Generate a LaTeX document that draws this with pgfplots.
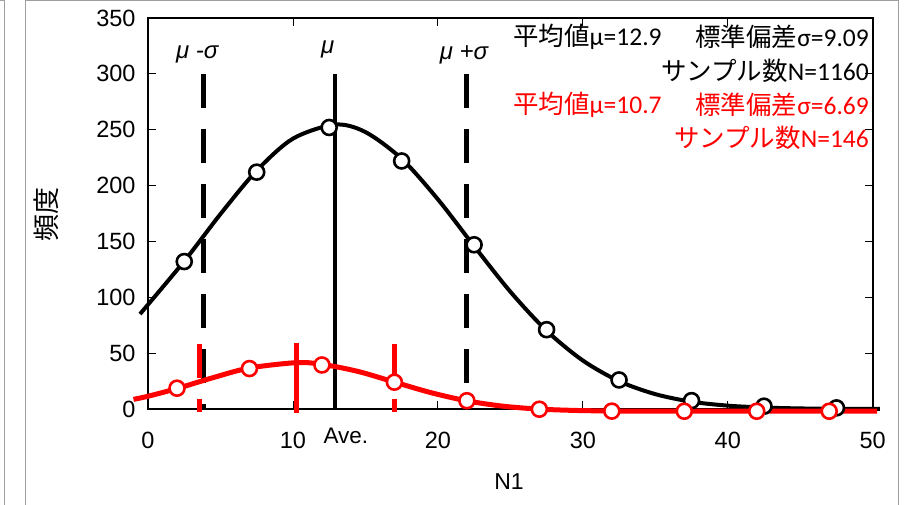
\documentclass[border=0pt]{standalone}
\usepackage{fontspec}
\setmainfont{Liberation Sans}
\newfontfamily\jp{Noto Sans CJK JP}
\newfontfamily\calib{Carlito}
\usepackage{pgfplots}
\pgfplotsset{compat=1.18}
\begin{document}
\begin{tikzpicture}
\useasboundingbox (0,0) rectangle (912pt,505pt);
\draw[gray!75, line width=1pt] (25pt,-2pt) -- (25pt,504pt) -- (898pt,504pt) -- (898pt,-2pt);
\draw[gray!75, line width=1pt] (4pt,-2pt) -- (4pt,504pt) -- (-2pt,504pt);
\begin{axis}[
  at={(148pt,96pt)}, anchor=south west, scale only axis,
  width=724.7pt, height=391pt,
  xmin=0, xmax=50, ymin=0, ymax=350,
  xtick={0,10,...,50}, ytick={0,50,...,350},
  tick align=inside, major tick length=8pt,
  every tick/.style={black, line width=0.8pt},
  axis line style={line width=2.2pt},
  clip=false,
  tick label style={font=\fontsize{23.5}{27}\selectfont},
  /pgf/number format/assume math mode=true,
  xticklabel style={yshift=-20pt},
  yticklabel style={xshift=-9pt},
]
% black sigma lines
\addplot[black, line width=5pt, dash pattern=on 34pt off 21pt] coordinates {(3.81,300) (3.81,0)};
\addplot[black, line width=5pt, dash pattern=on 34pt off 21pt] coordinates {(21.99,300) (21.99,0)};
\addplot[black, line width=4.5pt] coordinates {(12.9,300) (12.9,-1)};
% black curve
\addplot[black, line width=4pt, smooth] coordinates {
(-0.55,85) (2.5,132.3) (5,174.5) (7.5,213.4) (10,242.0) (12.9,254.6) (15,247.9)
(17.5,224.0) (20,187.7) (22.5,145.8) (25,105.0) (27.5,70.1) (30,43.4) (32.5,24.9)
(35,13.3) (37.5,6.5) (40,3.0) (42.5,1.3) (45,0.5) (47.5,0.2) (50.5,0.05)};
\addplot[only marks, mark=*, mark size=7.5pt, mark options={draw=black, fill=white, line width=2.6pt}] coordinates {
(2.5,132) (7.5,212) (12.5,252) (17.5,222) (22.5,147) (27.5,71) (32.5,26) (37.5,7.5) (42.5,2.5) (47.5,1)};
% red lines
\addplot[red, line width=4.5pt, dash pattern=on 34pt off 21pt] coordinates {(3.55,58.5) (3.55,-3)};
\addplot[red, line width=4.5pt, dash pattern=on 34pt off 21pt] coordinates {(17.0,58.5) (17.0,-3)};
\addplot[red, line width=4.5pt] coordinates {(10.25,59) (10.25,-3.5)};
% red curve
\addplot[red, line width=5pt, smooth] coordinates {
(-1,8.6) (0,11.4) (2,18.3) (4.5,28.1) (7,36.7) (10.25,41.5) (12,40.0) (14.5,33.6)
(17,24.1) (19.5,14.7) (22,7.3) (24.5,2.5) (27,-0.1) (29.5,-1.3) (32,-1.8) (35,-2)
(40,-2) (45,-2) (50.3,-2)};
\addplot[only marks, mark=*, mark size=7.5pt, mark options={draw=red, fill=white, line width=2.6pt}] coordinates {
(2,18.6) (7,36.2) (12,39.4) (17,24.0) (22,7.4) (27,-0.2) (32,-1.9) (37,-2) (42,-2) (47,-2)};
\node[font=\fontsize{22.5}{26}\selectfont] at (axis cs:13.65,0) [yshift=-27pt] {Ave.};
\node[font=\fontsize{24}{28}\selectfont\itshape] at (axis cs:3.4,317) {μ -σ};
\node[font=\fontsize{24}{28}\selectfont\itshape] at (axis cs:12.4,322) {μ};
\node[font=\fontsize{24}{28}\selectfont\itshape] at (axis cs:21.8,317) {μ +σ};
\end{axis}
\node[font=\fontsize{23}{26}\selectfont] at (509pt,23pt) {N1};
\node[rotate=90, font=\fontsize{27}{30}\selectfont\jp] at (46pt,290pt) {頻度};
\begin{scope}[every node/.style={font=\fontsize{25.5}{30}\selectfont, inner sep=0pt}]
\node[anchor=west] at (513pt,468pt) {\jp 平均値\calib μ=12.9};
\node[anchor=east] at (869pt,468pt) {\jp 標準偏差\calib σ=9.09};
\node[anchor=east] at (869pt,434pt) {\jp サンプル数\calib N=1160};
\node[anchor=west, text=red] at (513pt,400pt) {\jp 平均値\calib μ=10.7};
\node[anchor=east, text=red] at (869pt,400pt) {\jp 標準偏差\calib σ=6.69};
\node[anchor=east, text=red] at (869pt,367pt) {\jp サンプル数\calib N=146};
\end{scope}
\end{tikzpicture}
\end{document}
